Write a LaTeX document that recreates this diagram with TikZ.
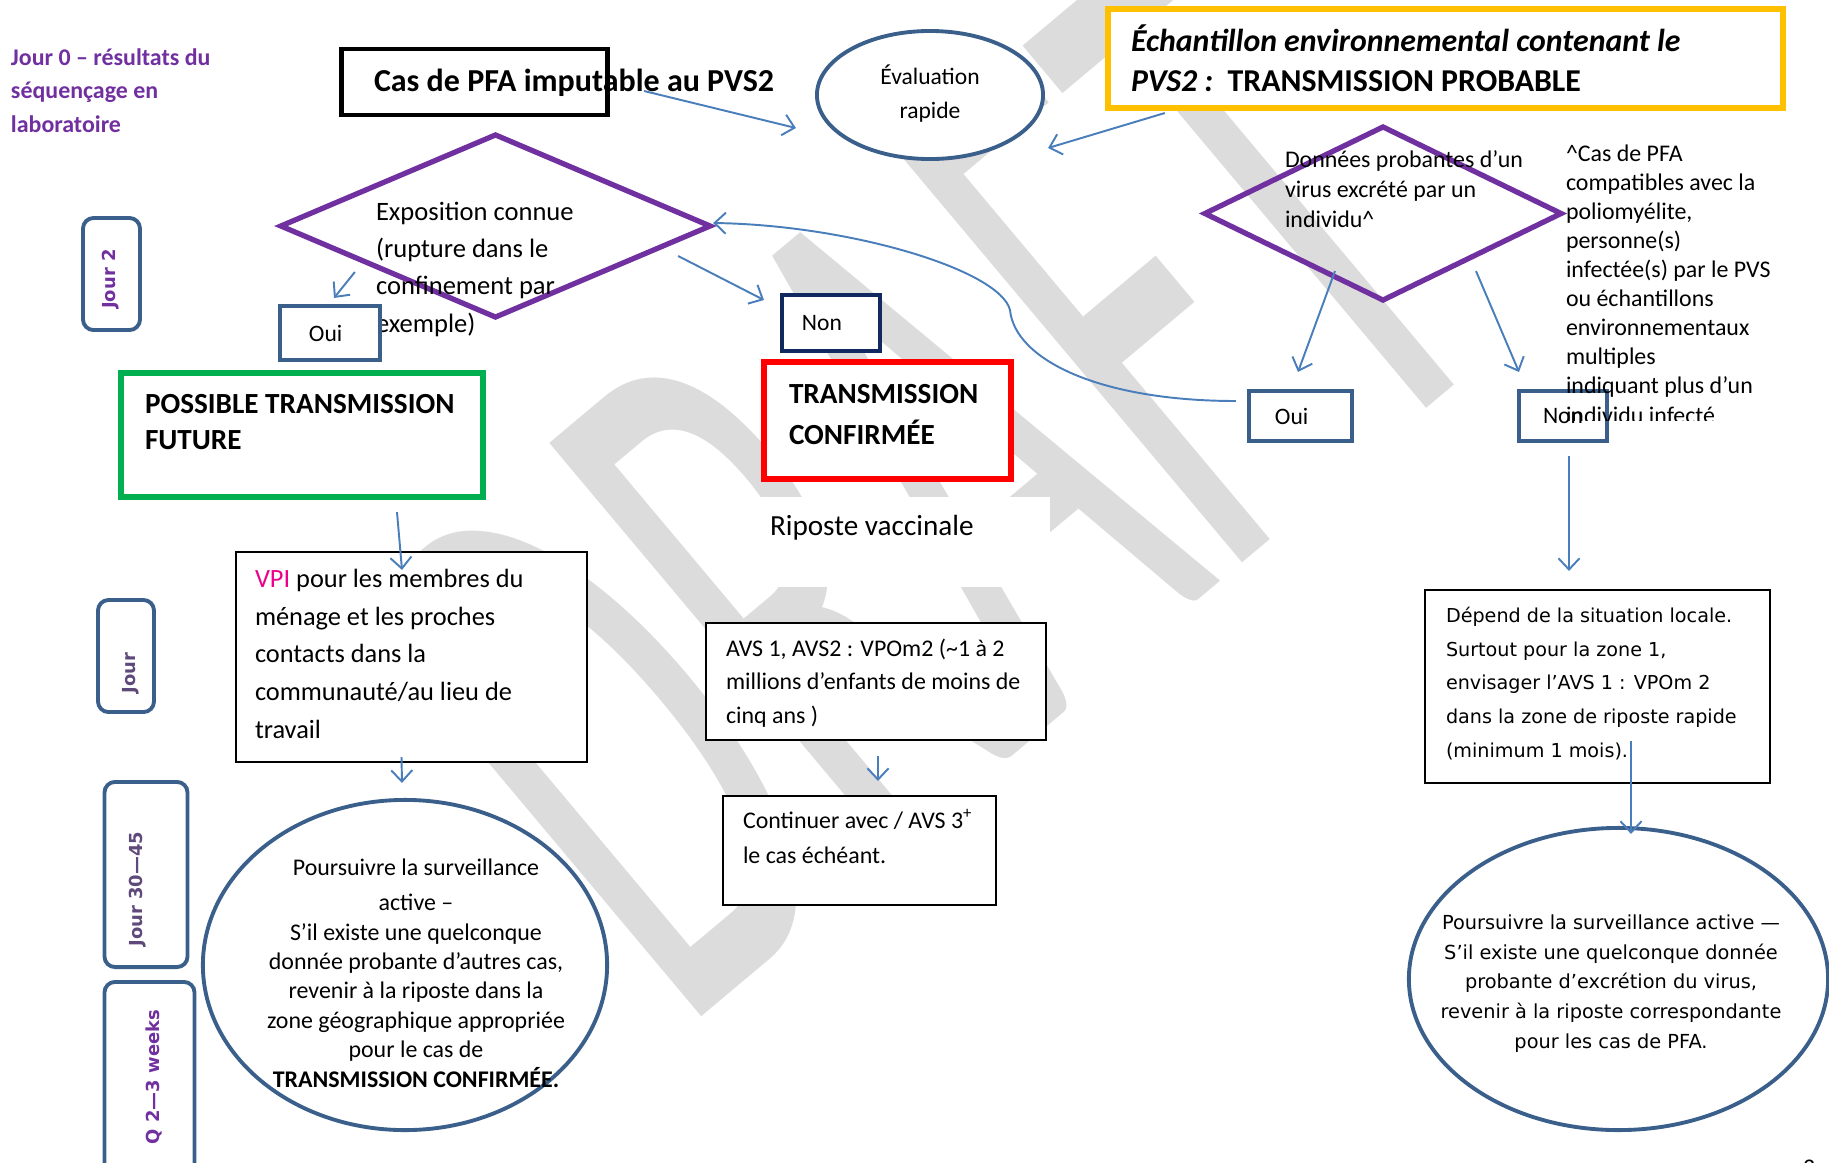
\documentclass[tikz,border=0pt]{standalone}
\usepackage{fontspec}
\setmainfont{Carlito}
\newfontfamily\verdfont{DejaVu Sans}
\usetikzlibrary{shapes.geometric,arrows.meta,calc,positioning}

\definecolor{purp}{HTML}{7030A0}
\definecolor{purpgray}{HTML}{5F497A}
\definecolor{ovalblue}{HTML}{3A5F8B}
\definecolor{navy}{HTML}{10295F}
\definecolor{arrblue}{HTML}{4A7EBB}
\definecolor{okgreen}{HTML}{00B050}
\definecolor{gold}{HTML}{FFC000}
\definecolor{wmgray}{HTML}{DCDCDC}

\newcommand\fsz[2]{\fontsize{#1}{#2}\selectfont}

\tikzset{
  shp/.style={inner sep=0pt, outer sep=0pt},
  framed/.style={shp, draw, fill=white, rectangle},
  oval/.style={shp, ellipse, draw=ovalblue, fill=white, line width=1.1pt},
  ynbox/.style={framed, draw=ovalblue, line width=1.2pt, font=\fsz{6.7}{8}},
  txt/.style={inner sep=0pt, outer sep=0pt, align=left, anchor=base west},
  arr/.style={draw=arrblue, line width=0.55pt, -{Straight Barb[length=3.2pt,width=6pt]}},
  sidebox/.style={shp, draw=ovalblue, line width=1.1pt, rounded corners=3pt},
  sidetxt/.style={rotate=90, inner sep=0pt, font=\verdfont\bfseries\fsz{5.1}{6}}
}

\begin{document}
\begin{tikzpicture}[x=0.01cm, y=-0.01cm]
\useasboundingbox (0,0) rectangle (1829,1163);
% watermark (multi-line texts below are placed by their last baseline)
\node[rotate=40, anchor=base west, text=wmgray, inner sep=0pt, font=\fsz{238}{238}] (wm) at (680,1035) {\scalebox{0.486}[1]{DRAFT}};

% top row
\node[txt, text=purp, font=\bfseries\fsz{6.8}{9.5}] (jourzero) at (11,132) {Jour 0 – résultats du\\séquençage en\\laboratoire};
\node[framed, line width=1.4pt, minimum width=2.65cm, minimum height=0.66cm] (cas) at (474.5,82) {};
\node[txt, font=\bfseries\fsz{9.1}{11}] (castxt) at (374,91) {Cas de PFA imputable au PVS2};
\node[oval, minimum width=2.26cm, minimum height=1.28cm] (eval) at (930,95) {};
\node[txt, align=center, anchor=base, font=\fsz{6.7}{9.4}] (evaltxt) at (930,118) {Évaluation\\rapide};
\node[framed, draw=gold, line width=1.8pt, minimum width=6.75cm, minimum height=0.99cm] (yel) at (1445.5,58.5) {};
\node[txt, font=\bfseries\fsz{9.05}{11.1}] (yeltxt) at (1131,91) {{\itshape Échantillon environnemental contenant le}\\{\itshape PVS2 :}\ \ TRANSMISSION PROBABLE};

% decisions
\node[shp, diamond, draw=purp, line width=1.5pt, minimum width=4.29cm, minimum height=1.82cm] (expo) at (495.5,226) {};
\node[txt, font=\fsz{7.55}{10.6}] (expotxt) at (376,332) {Exposition connue\\(rupture dans le\\confinement par\\exemple)};
\node[shp, diamond, draw=purp, line width=1.5pt, minimum width=3.56cm, minimum height=1.73cm] (dono) at (1383,213.5) {};
\node[txt, font=\fsz{6.8}{8.4}] (donotxt) at (1285,227) {Données probantes d’un\\virus excrété par un\\individu\textasciicircum};

\node[ynbox, minimum width=1.0cm, minimum height=0.54cm, text width=0.42cm, inner xsep=0.29cm, align=left] (ouiL) at (330,333) {Oui};
\node[ynbox, draw=navy, minimum width=0.98cm, minimum height=0.56cm, text width=0.58cm, inner xsep=0.2cm, align=left] (nonM) at (831,323) {Non};
\node[ynbox, minimum width=1.03cm, minimum height=0.5cm, text width=0.51cm, inner xsep=0.26cm, align=left] (ouiR) at (1300.5,416) {Oui};
\node[ynbox, minimum width=0.88cm, minimum height=0.5cm] (nonR) at (1563,416) {Non};

\begin{scope}
  \clip (1540,120) rectangle (1829,420);
  \node[txt, font=\fsz{6.8}{8.25}] (note) at (1566,423) {\textasciicircum Cas de PFA\\compatibles avec la\\poliomyélite,\\personne(s)\\infectée(s) par le PVS\\ou échantillons\\environnementaux\\multiples\\indiquant plus d’un\\individu infecté};
\end{scope}

% outcomes
\node[framed, draw=okgreen, line width=1.8pt, minimum width=3.62cm, minimum height=1.24cm] (green) at (302,435) {};
\node[txt, font=\bfseries\fsz{8.3}{10.2}] (greentxt) at (145,449) {POSSIBLE TRANSMISSION\\FUTURE};
\node[framed, draw=red, line width=1.8pt, minimum width=2.47cm, minimum height=1.17cm] (conf) at (887.5,420.5) {};
\node[txt, font=\bfseries\fsz{8.3}{11.4}] (conftxt) at (789,444) {TRANSMISSION\\CONFIRMÉE};
\node[shp, fill=white, anchor=north west, minimum width=3cm, minimum height=0.9cm] (ripbg) at (750,497) {};
\node[txt, font=\fsz{8.3}{10}] (riposte) at (770,535) {Riposte vaccinale};

% actions
\node[framed, line width=0.6pt, minimum width=3.51cm, minimum height=2.10cm] (vpi) at (411.5,657) {};
\node[txt, font=\fsz{7.5}{10.67}] (vpitxt) at (255,738) {\textcolor{magenta}{VPI} pour les membres du\\ménage et les proches\\contacts dans la\\communauté/au lieu de\\travail};
\node[framed, line width=0.6pt, minimum width=3.40cm, minimum height=1.17cm] (avs) at (876,681.5) {};
\node[txt, font=\fsz{6.8}{9.5}] (avstxt) at (726,723) {AVS 1, AVS2 : VPOm2 (\textasciitilde1 à 2\\millions d’enfants de moins de\\cinq ans )};
\node[framed, line width=0.6pt, minimum width=2.73cm, minimum height=1.09cm] (cont) at (859.5,850.5) {};
\node[txt, font=\fsz{6.8}{9.7}] (conttxt) at (743,863) {Continuer avec / AVS 3\textsuperscript{+}\\le cas échéant.};
\node[framed, line width=0.6pt, minimum width=3.45cm, minimum height=1.93cm] (depend) at (1597.5,686.5) {};
\node[txt, font=\verdfont\fsz{5.45}{9.55}] (dependtxt) at (1446,757) {Dépend de la situation locale.\\Surtout pour la zone 1,\\envisager l’AVS 1 : VPOm 2\\dans la zone de riposte rapide\\(minimum 1 mois).};

% follow-up
\node[oval, minimum width=4.04cm, minimum height=3.30cm] (ellL) at (405,965) {};
\node[txt, align=center, anchor=base, font=\fsz{6.8}{8.35}] (ellLtxt) at (416,1087) {Poursuivre la surveillance\\[1.6pt]active –\\S’il existe une quelconque\\donnée probante d’autres cas,\\revenir à la riposte dans la\\zone géographique appropriée\\pour le cas de\\\textbf{TRANSMISSION CONFIRMÉE.}};
\node[oval, minimum width=4.19cm, minimum height=3.02cm] (ellR) at (1618.5,979) {};
\node[txt, align=center, anchor=base, font=\verdfont\fsz{5.5}{8.4}] (ellRtxt) at (1611,1048) {Poursuivre la surveillance active —\\S’il existe une quelconque donnée\\probante d’excrétion du virus,\\revenir à la riposte correspondante\\pour les cas de PFA.};

% day labels
\foreach \nm/\cx/\cy/\w/\h/\tx/\ty/\lab/\col in {
    jourdeux/111.5/274/0.57/1.12/111/279/Jour 2/purp,
    jourun/126/656/0.56/1.12/131/673/Jour/purpgray,
    jourtrente/146/874.5/0.83/1.85/138/889/Jour 30—45/purpgray,
    qweeks/149.5/1080/0.90/1.96/154/1077/Q 2—3 weeks/purp}
  {\node[sidebox, minimum width=\w cm, minimum height=\h cm] (\nm) at (\cx,\cy) {};
   \node[sidetxt, text=\col] at (\tx,\ty) {\lab};}

\node[txt, font=\fsz{6.8}{8}] (pagenum) at (1803,1175) {2};

% connectors
\draw[arr] ($(cas.east)+(37,9)$) -- ($(eval.west)+(-21,33)$);
\draw[arr] ($(yel.south west)+(57,5)$) -- ($(eval.east)+(5,53)$);
\draw[arr] ($(expo.west)+(74,46)$) -- ($(ouiL.north)+(4,-8)$);
\draw[arr] ($(expo.east)+(-32,30)$) -- ($(nonM.west)+(-18,-23)$);
\draw[arr] ($(ouiR.west)+(-13,-15)$) .. controls (1100,401) and (1015,360) .. (1010,310)
  .. controls (1000,270) and (850,225) .. ($(expo.east)+(3,-3)$);
\draw[arr] ($(dono.south)+(-48,-29)$) -- ($(ouiR.north)+(-2.5,-19)$);
\draw[arr] ($(dono.south)+(93,-29)$) -- ($(nonR.north)+(-44,-19)$);
\draw[arr] ($(nonR.south)+(6,15)$) -- ($(depend.north)+(-28.5,-19)$);
\draw[arr] ($(depend.south)+(33.5,-42)$) -- ($(ellR.north)+(12.5,6)$);
\draw[arr] ($(green.south)+(95,15)$) -- ($(vpi.north)+(-9.5,18)$);
\draw[arr] ($(vpi.south)+(-10,-5)$) -- ($(ellL.north)+(-3,-17)$);
\draw[arr] ($(avs.south)+(2,16)$) -- ($(cont.north)+(18.5,-15)$);
\end{tikzpicture}
\end{document}
